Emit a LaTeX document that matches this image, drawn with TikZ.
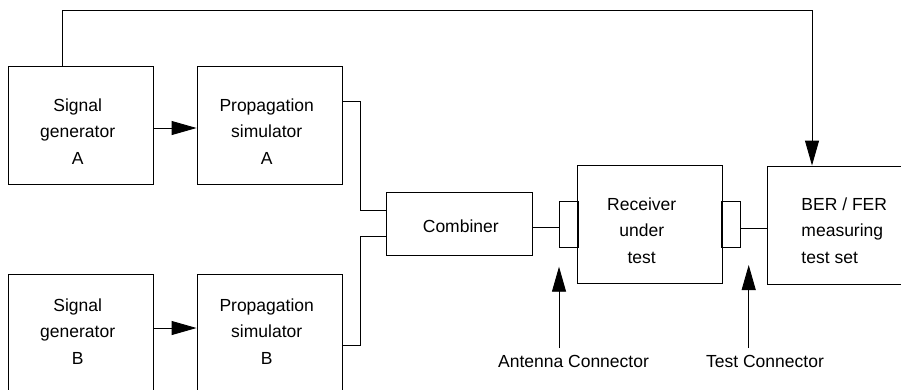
\documentclass[tikz,border=0pt]{standalone}
\usepackage{fontspec}
\setmainfont{Liberation Sans}
\usetikzlibrary{arrows.meta}

\begin{document}
\begin{tikzpicture}[x=1pt,y=-1pt,
  line width=0.9pt,
  box/.style={draw, inner sep=0pt, minimum width=145pt, minimum height=118pt},
  conn/.style={draw, inner sep=0pt, minimum width=19pt, minimum height=46pt},
  txt/.style={font=\fontsize{17.5pt}{26.7pt}\selectfont, align=center, inner sep=0pt},
  tip/.style={-{Triangle[length=25pt,width=14pt]}}]

  % page frame
  \clip (0,0) rectangle (901,389);

  % equipment blocks
  \node[box] (genA) at (80.5,125) {};
  \node[box] (simA) at (269.5,125) {};
  \node[box] (genB) at (80.5,333) {};
  \node[box] (simB) at (269.5,333) {};
  \node[box, minimum width=145.6pt, minimum height=63.4pt] (comb) at (459.5,224) {};
  \node[box, minimum width=144.7pt] (rx) at (649.7,224.7) {};
  \node[box] (ber) at (839.5,225) {};
  \node[conn] (ant) at (568.8,224.4) {};
  \node[conn] (tst) at (731.4,224.4) {};

  % block texts
  \node[txt] (genAt) at (77.7,131.5) {Signal\\generator\\A};
  \node[txt] (simAt) at (266.7,131.5) {Propagation\\simulator\\A};
  \node[txt] (genBt) at (77.7,331.5) {Signal\\generator\\B};
  \node[txt] (simBt) at (266.7,331.5) {Propagation\\simulator\\B};
  \node[txt] (combt) at (460.8,226) {Combiner};
  \node[txt] (rxt) at (641.7,230.5) {Receiver\\under\\test};
  \node[txt, align=left, anchor=west] (bert) at (801,230.5) {BER / FER\\measuring\\test set};

  % connector captions
  \node[txt] (antl) at (573.5,361) {Antenna Connector};
  \node[txt] (tstl) at (765,361) {Test Connector};

  % signal paths
  \draw[tip] (genA.east |- 0,128) -- (simA.west |- 0,128);
  \draw[tip] (genB.east |- 0,328) -- (simB.west |- 0,328);
  \draw (simA.east |- 0,101.7) -| (360,210) -- (comb.west |- 0,210);
  \draw (simB.east |- 0,345.7) -| (360,236.7) -- (comb.west |- 0,236.7);
  \draw (comb.east |- 0,227.5) -- (ant.west |- 0,227.5);
  \draw (tst.east |- 0,228.3) -- (ber.west |- 0,228.3);

  % reference feed from generator A to the measuring set
  \draw[tip] (genA.north -| 62,0) -- (62,10.3) -| (ber.north -| 812,0);

  % pointers to the connectors
  \coordinate (antTail) at (559,348);
  \coordinate (antTip) at (559,266.7);
  \coordinate (tstTail) at (748.7,348);
  \coordinate (tstTip) at (748.7,265);
  \draw[tip] (antTail) -- (antTip);
  \draw[tip] (tstTail) -- (tstTip);
\end{tikzpicture}
\end{document}
